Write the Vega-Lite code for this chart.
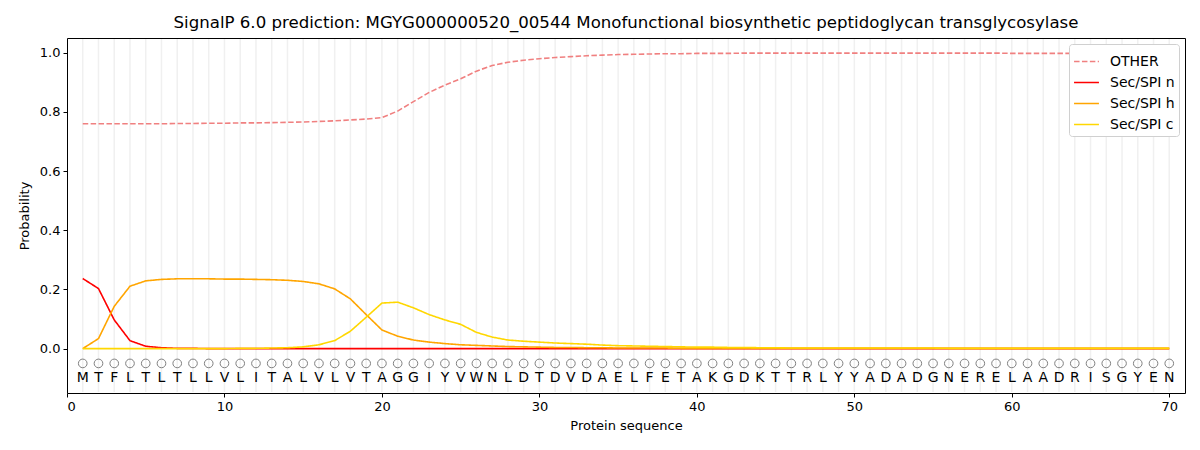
{
  "$schema": "https://vega.github.io/schema/vega-lite/v6.json",
  "width": 1118,
  "height": 355,
  "autosize": {"type": "none"},
  "padding": {"left": 67, "top": 38, "right": 15, "bottom": 57},
  "title": {"text": "SignalP 6.0 prediction: MGYG000000520_00544 Monofunctional biosynthetic peptidoglycan transglycosylase", "fontSize": 16.6, "fontWeight": "normal", "offset": 6},
  "data": {"values": [
    {"pos": 1, "aa": "M", "OTHER": 0.760, "Sec/SPI n": 0.237, "Sec/SPI h": 0.000, "Sec/SPI c": 0.000},
    {"pos": 2, "aa": "T", "OTHER": 0.760, "Sec/SPI n": 0.203, "Sec/SPI h": 0.034, "Sec/SPI c": 0.000},
    {"pos": 3, "aa": "F", "OTHER": 0.760, "Sec/SPI n": 0.097, "Sec/SPI h": 0.143, "Sec/SPI c": 0.000},
    {"pos": 4, "aa": "L", "OTHER": 0.760, "Sec/SPI n": 0.027, "Sec/SPI h": 0.211, "Sec/SPI c": 0.000},
    {"pos": 5, "aa": "T", "OTHER": 0.760, "Sec/SPI n": 0.008, "Sec/SPI h": 0.229, "Sec/SPI c": 0.000},
    {"pos": 6, "aa": "L", "OTHER": 0.760, "Sec/SPI n": 0.003, "Sec/SPI h": 0.234, "Sec/SPI c": 0.000},
    {"pos": 7, "aa": "T", "OTHER": 0.761, "Sec/SPI n": 0.001, "Sec/SPI h": 0.236, "Sec/SPI c": 0.000},
    {"pos": 8, "aa": "L", "OTHER": 0.761, "Sec/SPI n": 0.001, "Sec/SPI h": 0.236, "Sec/SPI c": 0.000},
    {"pos": 9, "aa": "L", "OTHER": 0.762, "Sec/SPI n": 0.000, "Sec/SPI h": 0.236, "Sec/SPI c": 0.000},
    {"pos": 10, "aa": "V", "OTHER": 0.762, "Sec/SPI n": 0.000, "Sec/SPI h": 0.235, "Sec/SPI c": 0.000},
    {"pos": 11, "aa": "L", "OTHER": 0.763, "Sec/SPI n": 0.000, "Sec/SPI h": 0.235, "Sec/SPI c": 0.001},
    {"pos": 12, "aa": "I", "OTHER": 0.763, "Sec/SPI n": 0.000, "Sec/SPI h": 0.234, "Sec/SPI c": 0.001},
    {"pos": 13, "aa": "T", "OTHER": 0.764, "Sec/SPI n": 0.000, "Sec/SPI h": 0.233, "Sec/SPI c": 0.002},
    {"pos": 14, "aa": "A", "OTHER": 0.765, "Sec/SPI n": 0.000, "Sec/SPI h": 0.231, "Sec/SPI c": 0.003},
    {"pos": 15, "aa": "L", "OTHER": 0.766, "Sec/SPI n": 0.000, "Sec/SPI h": 0.227, "Sec/SPI c": 0.006},
    {"pos": 16, "aa": "V", "OTHER": 0.768, "Sec/SPI n": 0.000, "Sec/SPI h": 0.219, "Sec/SPI c": 0.013},
    {"pos": 17, "aa": "L", "OTHER": 0.770, "Sec/SPI n": 0.000, "Sec/SPI h": 0.202, "Sec/SPI c": 0.027},
    {"pos": 18, "aa": "V", "OTHER": 0.773, "Sec/SPI n": 0.000, "Sec/SPI h": 0.168, "Sec/SPI c": 0.059},
    {"pos": 19, "aa": "T", "OTHER": 0.776, "Sec/SPI n": 0.000, "Sec/SPI h": 0.115, "Sec/SPI c": 0.106},
    {"pos": 20, "aa": "A", "OTHER": 0.781, "Sec/SPI n": 0.000, "Sec/SPI h": 0.063, "Sec/SPI c": 0.154},
    {"pos": 21, "aa": "G", "OTHER": 0.803, "Sec/SPI n": 0.000, "Sec/SPI h": 0.042, "Sec/SPI c": 0.157},
    {"pos": 22, "aa": "G", "OTHER": 0.835, "Sec/SPI n": 0.000, "Sec/SPI h": 0.029, "Sec/SPI c": 0.138},
    {"pos": 23, "aa": "I", "OTHER": 0.866, "Sec/SPI n": 0.000, "Sec/SPI h": 0.022, "Sec/SPI c": 0.115},
    {"pos": 24, "aa": "Y", "OTHER": 0.891, "Sec/SPI n": 0.000, "Sec/SPI h": 0.017, "Sec/SPI c": 0.097},
    {"pos": 25, "aa": "V", "OTHER": 0.912, "Sec/SPI n": 0.000, "Sec/SPI h": 0.013, "Sec/SPI c": 0.082},
    {"pos": 26, "aa": "W", "OTHER": 0.938, "Sec/SPI n": 0.000, "Sec/SPI h": 0.011, "Sec/SPI c": 0.055},
    {"pos": 27, "aa": "N", "OTHER": 0.957, "Sec/SPI n": 0.000, "Sec/SPI h": 0.009, "Sec/SPI c": 0.039},
    {"pos": 28, "aa": "L", "OTHER": 0.968, "Sec/SPI n": 0.000, "Sec/SPI h": 0.007, "Sec/SPI c": 0.029},
    {"pos": 29, "aa": "D", "OTHER": 0.975, "Sec/SPI n": 0.000, "Sec/SPI h": 0.006, "Sec/SPI c": 0.025},
    {"pos": 30, "aa": "T", "OTHER": 0.980, "Sec/SPI n": 0.000, "Sec/SPI h": 0.005, "Sec/SPI c": 0.022},
    {"pos": 31, "aa": "D", "OTHER": 0.984, "Sec/SPI n": 0.000, "Sec/SPI h": 0.004, "Sec/SPI c": 0.019},
    {"pos": 32, "aa": "V", "OTHER": 0.987, "Sec/SPI n": 0.000, "Sec/SPI h": 0.004, "Sec/SPI c": 0.017},
    {"pos": 33, "aa": "D", "OTHER": 0.990, "Sec/SPI n": 0.000, "Sec/SPI h": 0.003, "Sec/SPI c": 0.015},
    {"pos": 34, "aa": "A", "OTHER": 0.992, "Sec/SPI n": 0.000, "Sec/SPI h": 0.003, "Sec/SPI c": 0.012},
    {"pos": 35, "aa": "E", "OTHER": 0.994, "Sec/SPI n": 0.000, "Sec/SPI h": 0.002, "Sec/SPI c": 0.010},
    {"pos": 36, "aa": "L", "OTHER": 0.995, "Sec/SPI n": 0.000, "Sec/SPI h": 0.002, "Sec/SPI c": 0.009},
    {"pos": 37, "aa": "F", "OTHER": 0.996, "Sec/SPI n": 0.000, "Sec/SPI h": 0.002, "Sec/SPI c": 0.008},
    {"pos": 38, "aa": "E", "OTHER": 0.997, "Sec/SPI n": 0.000, "Sec/SPI h": 0.002, "Sec/SPI c": 0.007},
    {"pos": 39, "aa": "T", "OTHER": 0.997, "Sec/SPI n": 0.000, "Sec/SPI h": 0.001, "Sec/SPI c": 0.006},
    {"pos": 40, "aa": "A", "OTHER": 0.998, "Sec/SPI n": 0.000, "Sec/SPI h": 0.001, "Sec/SPI c": 0.005},
    {"pos": 41, "aa": "K", "OTHER": 0.998, "Sec/SPI n": 0.000, "Sec/SPI h": 0.001, "Sec/SPI c": 0.005},
    {"pos": 42, "aa": "G", "OTHER": 0.998, "Sec/SPI n": 0.000, "Sec/SPI h": 0.001, "Sec/SPI c": 0.004},
    {"pos": 43, "aa": "D", "OTHER": 0.999, "Sec/SPI n": 0.000, "Sec/SPI h": 0.001, "Sec/SPI c": 0.004},
    {"pos": 44, "aa": "K", "OTHER": 0.999, "Sec/SPI n": 0.000, "Sec/SPI h": 0.001, "Sec/SPI c": 0.003},
    {"pos": 45, "aa": "T", "OTHER": 0.999, "Sec/SPI n": 0.000, "Sec/SPI h": 0.001, "Sec/SPI c": 0.003},
    {"pos": 46, "aa": "T", "OTHER": 0.999, "Sec/SPI n": 0.000, "Sec/SPI h": 0.001, "Sec/SPI c": 0.002},
    {"pos": 47, "aa": "R", "OTHER": 0.999, "Sec/SPI n": 0.000, "Sec/SPI h": 0.001, "Sec/SPI c": 0.002},
    {"pos": 48, "aa": "L", "OTHER": 0.999, "Sec/SPI n": 0.000, "Sec/SPI h": 0.001, "Sec/SPI c": 0.002},
    {"pos": 49, "aa": "Y", "OTHER": 0.999, "Sec/SPI n": 0.000, "Sec/SPI h": 0.001, "Sec/SPI c": 0.002},
    {"pos": 50, "aa": "Y", "OTHER": 0.999, "Sec/SPI n": 0.000, "Sec/SPI h": 0.001, "Sec/SPI c": 0.002},
    {"pos": 51, "aa": "A", "OTHER": 0.999, "Sec/SPI n": 0.000, "Sec/SPI h": 0.001, "Sec/SPI c": 0.002},
    {"pos": 52, "aa": "D", "OTHER": 0.999, "Sec/SPI n": 0.000, "Sec/SPI h": 0.001, "Sec/SPI c": 0.002},
    {"pos": 53, "aa": "A", "OTHER": 0.999, "Sec/SPI n": 0.000, "Sec/SPI h": 0.001, "Sec/SPI c": 0.002},
    {"pos": 54, "aa": "D", "OTHER": 0.999, "Sec/SPI n": 0.000, "Sec/SPI h": 0.001, "Sec/SPI c": 0.002},
    {"pos": 55, "aa": "G", "OTHER": 0.999, "Sec/SPI n": 0.000, "Sec/SPI h": 0.001, "Sec/SPI c": 0.002},
    {"pos": 56, "aa": "N", "OTHER": 0.999, "Sec/SPI n": 0.000, "Sec/SPI h": 0.001, "Sec/SPI c": 0.001},
    {"pos": 57, "aa": "E", "OTHER": 0.999, "Sec/SPI n": 0.000, "Sec/SPI h": 0.001, "Sec/SPI c": 0.001},
    {"pos": 58, "aa": "R", "OTHER": 0.999, "Sec/SPI n": 0.000, "Sec/SPI h": 0.001, "Sec/SPI c": 0.001},
    {"pos": 59, "aa": "E", "OTHER": 0.999, "Sec/SPI n": 0.000, "Sec/SPI h": 0.001, "Sec/SPI c": 0.001},
    {"pos": 60, "aa": "L", "OTHER": 0.998, "Sec/SPI n": 0.000, "Sec/SPI h": 0.001, "Sec/SPI c": 0.001},
    {"pos": 61, "aa": "A", "OTHER": 0.998, "Sec/SPI n": 0.000, "Sec/SPI h": 0.001, "Sec/SPI c": 0.001},
    {"pos": 62, "aa": "A", "OTHER": 0.998, "Sec/SPI n": 0.000, "Sec/SPI h": 0.001, "Sec/SPI c": 0.001},
    {"pos": 63, "aa": "D", "OTHER": 0.998, "Sec/SPI n": 0.000, "Sec/SPI h": 0.001, "Sec/SPI c": 0.001},
    {"pos": 64, "aa": "R", "OTHER": 0.998, "Sec/SPI n": 0.000, "Sec/SPI h": 0.001, "Sec/SPI c": 0.001},
    {"pos": 65, "aa": "I", "OTHER": 0.998, "Sec/SPI n": 0.000, "Sec/SPI h": 0.001, "Sec/SPI c": 0.001},
    {"pos": 66, "aa": "S", "OTHER": 0.998, "Sec/SPI n": 0.000, "Sec/SPI h": 0.001, "Sec/SPI c": 0.001},
    {"pos": 67, "aa": "G", "OTHER": 0.998, "Sec/SPI n": 0.000, "Sec/SPI h": 0.001, "Sec/SPI c": 0.001},
    {"pos": 68, "aa": "Y", "OTHER": 0.998, "Sec/SPI n": 0.000, "Sec/SPI h": 0.001, "Sec/SPI c": 0.001},
    {"pos": 69, "aa": "E", "OTHER": 0.998, "Sec/SPI n": 0.000, "Sec/SPI h": 0.001, "Sec/SPI c": 0.001},
    {"pos": 70, "aa": "N", "OTHER": 0.997, "Sec/SPI n": 0.000, "Sec/SPI h": 0.001, "Sec/SPI c": 0.001}
  ]},
  "layer": [
    {
      "mark": {"type": "rule", "color": "#f0f0f0", "strokeWidth": 1.5},
      "encoding": {
        "x": {"field": "pos", "type": "quantitative", "scale": {"domain": [0, 71], "nice": false, "zero": false}},
        "y": {"datum": -0.147, "scale": {"domain": [-0.15, 1.05], "nice": false, "zero": false}},
        "y2": {"datum": 1.047}
      }
    },
    {
      "transform": [{"fold": ["OTHER", "Sec/SPI n", "Sec/SPI h", "Sec/SPI c"], "as": ["series", "prob"]}],
      "mark": {"type": "line", "strokeWidth": 1.6},
      "encoding": {
        "x": {"field": "pos", "type": "quantitative", "title": "Protein sequence",
          "scale": {"domain": [0, 71], "nice": false, "zero": false},
          "axis": {"values": [0, 10, 20, 30, 40, 50, 60, 70]}},
        "y": {"field": "prob", "type": "quantitative", "title": "Probability",
          "scale": {"domain": [-0.15, 1.05], "nice": false, "zero": false},
          "axis": {"values": [0, 0.2, 0.4, 0.6, 0.8, 1.0], "format": ".1f"}},
        "color": {"field": "series", "type": "nominal", "title": null,
          "scale": {"domain": ["OTHER", "Sec/SPI n", "Sec/SPI h", "Sec/SPI c"],
            "range": ["#f08080", "#ff0000", "#ffa500", "#ffd700"]}},
        "strokeDash": {"field": "series", "type": "nominal", "title": null,
          "scale": {"domain": ["OTHER", "Sec/SPI n", "Sec/SPI h", "Sec/SPI c"],
            "range": [[5.5, 2.4], [1, 0], [1, 0], [1, 0]]}}
      }
    },
    {
      "mark": {"type": "point", "shape": "circle", "filled": false, "stroke": "#808080", "strokeWidth": 1, "size": 75, "opacity": 1},
      "encoding": {
        "x": {"field": "pos", "type": "quantitative", "scale": {"domain": [0, 71], "nice": false, "zero": false}},
        "y": {"datum": -0.05, "scale": {"domain": [-0.15, 1.05], "nice": false, "zero": false}}
      }
    },
    {
      "mark": {"type": "text", "fontSize": 14, "color": "black", "baseline": "middle", "align": "center"},
      "encoding": {
        "x": {"field": "pos", "type": "quantitative", "scale": {"domain": [0, 71], "nice": false, "zero": false}},
        "y": {"datum": -0.1, "scale": {"domain": [-0.15, 1.05], "nice": false, "zero": false}},
        "text": {"field": "aa", "type": "nominal"}
      }
    }
  ],
  "config": {
    "font": "DejaVu Sans",
    "view": {"stroke": "black", "strokeWidth": 1},
    "axis": {"grid": false, "domain": false, "tickColor": "black", "tickSize": 4, "labelFontSize": 13, "labelColor": "black", "titleFontSize": 13, "titleFontWeight": "normal", "titleColor": "black", "labelPadding": 3},
    "axisX": {"titlePadding": 6},
    "axisY": {"titlePadding": 8},
    "legend": {"orient": "top-right", "offset": 6, "fillColor": "white", "strokeColor": "#d0d0d0", "cornerRadius": 3, "padding": 4, "labelFontSize": 14, "labelColor": "black", "symbolType": "stroke", "symbolStrokeWidth": 1.6, "symbolSize": 620, "rowPadding": -4, "labelOffset": 10},
    "title": {"font": "DejaVu Sans", "color": "black"}
  }
}
